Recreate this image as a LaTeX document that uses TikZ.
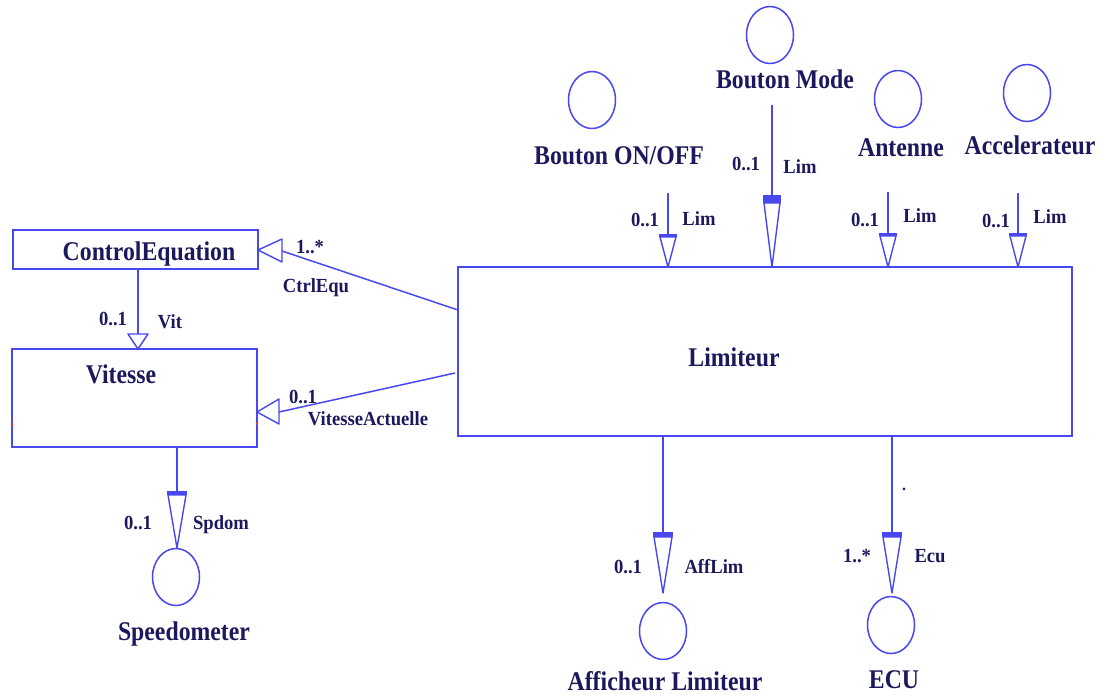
\documentclass[tikz,border=0pt]{standalone}
\usepackage{fontspec}
\setmainfont{Liberation Serif}
\newfontfamily\labfont[FakeStretch=0.88]{Liberation Serif}
\newfontfamily\smallfont[FakeStretch=0.93]{Liberation Serif}
\usetikzlibrary{shapes.geometric,calc}
\definecolor{lineblue}{RGB}{72,72,238}
\definecolor{txt}{RGB}{28,24,92}
\definecolor{markred}{RGB}{230,60,60}
% interface tip: #1 tip coordinate, #2 triangle length, #3 bar thickness, #4 half width
\newcommand\lolly[4]{%
  \fill[lineblue] ($(#1)+(-#4-1,-#2-#3)$) rectangle ($(#1)+(#4+1,-#2)$);
  \draw[tri] ($(#1)+(-#4,-#2)$) -- (#1) -- ($(#1)+(#4,-#2)$) -- cycle;}
\begin{document}
\begin{tikzpicture}[x=1pt,y=-1pt,
  big/.style={font=\labfont\fontsize{27}{30}\selectfont\bfseries, text=txt, inner sep=0, anchor=base},
  small/.style={font=\smallfont\fontsize{20}{22}\selectfont\bfseries, text=txt, inner sep=0, anchor=base},
  box/.style={draw=lineblue, line width=1.6pt, outer sep=0, inner sep=0, anchor=north west},
  actor/.style={ellipse, draw=lineblue, line width=1.5pt, minimum width=47, minimum height=57, inner sep=0},
  conn/.style={draw=lineblue, line width=1.5pt},
  tri/.style={draw=lineblue, line width=1.4pt, line join=round},
]
\useasboundingbox (0,0) rectangle (1103,697);

% boxes
\node[box, minimum width=245, minimum height=39] (ce) at (13,230) {};
\node[box, minimum width=245, minimum height=98] (vit) at (12,349) {};
\node[box, minimum width=614, minimum height=169] (lim) at (458,267) {};
\node[big] (lce) at (149,260) {ControlEquation};
\node[big] (lvit) at (121,383) {Vitesse};
\node[big] (llim) at (734,366) {Limiteur};

% small red marks on Vitesse
\draw[markred, line width=1pt] (11,422) -- (13,426);
\draw[markred, line width=1pt] (256,422) -- (258,426);

% actors
\node[actor] (onoff) at (592,100) {};
\node[actor] (mode) at (770,35) {};
\node[actor] (ant) at (898,99) {};
\node[actor] (acc) at (1027,93) {};
\node[actor] (spd) at (176,577) {};
\node[actor] (aff) at (663,631) {};
\node[actor] (ecu) at (891,625) {};
\node[big] (lonoff) at (619,164) {Bouton ON/OFF};
\node[big] (lmode) at (785,88) {Bouton Mode};
\node[big] (lant) at (901,156) {Antenne};
\node[big] (lacc) at (1030,154) {Accelerateur};
\node[big] (lspd) at (184,640) {Speedometer};
\node[big] (laff) at (665,690) {Afficheur Limiteur};
\node[big] (lecu) at (894,688) {ECU};

% top interface connectors
\coordinate (s1) at (668,193);
\coordinate (t1) at ($(lim.north west)+(210,0)$);
\draw[conn] (s1) -- ($(t1)+(0,-33)$);
\lolly{t1}{30}{3}{8}
\coordinate (s2) at (772,105);
\coordinate (t2) at ($(lim.north west)+(314,0)$);
\draw[conn] (s2) -- ($(t2)+(0,-72)$);
\lolly{t2}{64}{8}{8}
\coordinate (s3) at (888,192);
\coordinate (t3) at ($(lim.north west)+(430,0)$);
\draw[conn] (s3) -- ($(t3)+(0,-34)$);
\lolly{t3}{31}{3}{8}
\coordinate (s4) at (1018,193);
\coordinate (t4) at ($(lim.north west)+(560,0)$);
\draw[conn] (s4) -- ($(t4)+(0,-34)$);
\lolly{t4}{31}{3}{8}

% bottom interface connectors
\coordinate (s5) at ($(lim.south west)+(205,0)$);
\coordinate (t5) at (663,593);
\draw[conn] (s5) -- ($(t5)+(0,-61)$);
\lolly{t5}{56}{5}{9}
\coordinate (s6) at ($(lim.south west)+(434,0)$);
\coordinate (t6) at (892,593);
\draw[conn] (s6) -- ($(t6)+(0,-61)$);
\lolly{t6}{56}{5}{9}
\coordinate (s7) at ($(vit.south west)+(165,0)$);
\coordinate (t7) at (177,548);
\draw[conn] (s7) -- ($(t7)+(0,-57)$);
\lolly{t7}{53}{4}{9}

% Vit
\coordinate (s8) at ($(ce.south west)+(125,0)$);
\coordinate (t8) at ($(vit.north west)+(126,0)$);
\draw[conn] (s8) -- ($(t8)+(0,-15)$);
\draw[tri] ($(t8)+(-10,-15)$) -- (t8) -- ($(t8)+(10,-15)$) -- cycle;

% CtrlEqu
\coordinate (t9) at ($(ce.north east)+(0,20)$);
\coordinate (s9) at ($(lim.north west)+(0,43)$);
\draw[conn] (s9) -- ($(t9)+(24,1)$);
\draw[tri] ($(t9)+(24,-11)$) -- (t9) -- ($(t9)+(24,12)$) -- cycle;

% VitesseActuelle
\coordinate (t10) at ($(vit.north east)+(0,63)$);
\coordinate (s10) at ($(lim.north west)+(-3,106)$);
\draw[conn] (s10) -- ($(t10)+(22,0)$);
\draw[tri] ($(t10)+(22,-13)$) -- (t10) -- ($(t10)+(22,12)$) -- cycle;

% multiplicities and role names
\node[small] at (645,226) {0..1};
\node[small] at (699,225) {Lim};
\node[small] at (746,170) {0..1};
\node[small] at (800,173) {Lim};
\node[small] at (865,226) {0..1};
\node[small] at (920,222) {Lim};
\node[small] at (996,227) {0..1};
\node[small] at (1050,223) {Lim};
\node[small] at (113,325) {0..1};
\node[small] at (170,328) {Vit};
\node[small] at (310,253) {1..*};
\node[small] at (316,292) {CtrlEqu};
\node[small] at (303,403) {0..1};
\node[small] at (368,425) {VitesseActuelle};
\node[small] at (138,529) {0..1};
\node[small] at (221,529) {Spdom};
\node[small] at (628,573) {0..1};
\node[small] at (714,573) {AffLim};
\node[small] at (857,562) {1..*};
\node[small] at (930,562) {Ecu};
\node[small, font=\fontsize{16}{18}\selectfont\bfseries] at (904,490) {.};
\end{tikzpicture}
\end{document}
